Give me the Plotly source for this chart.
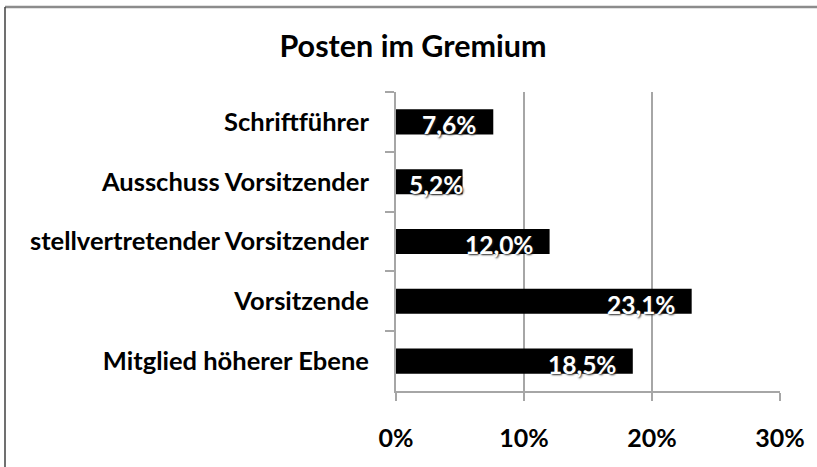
import plotly.graph_objects as go

# Posts held in the committee, top to bottom
positions = [
    "Schriftführer",
    "Ausschuss Vorsitzender",
    "stellvertretender Vorsitzender",
    "Vorsitzende",
    "Mitglied höherer Ebene",
]
shares = [7.6, 5.2, 12.0, 23.1, 18.5]
x_ticks = [0, 10, 20, 30]
x_tick_labels = ["0%", "10%", "20%", "30%"]

FONT = "Lato"
W, H = 817, 467
L, R, T, B = 396, 37, 92, 76


def pct_label(v):
    return f"{v:.1f}%".replace(".", ",")


fig = go.Figure(
    go.Bar(
        x=shares,
        y=positions,
        orientation="h",
        marker=dict(color="black", line=dict(width=0)),
        width=0.42,
        hoverinfo="skip",
    )
)

# value labels, white with a dark halo, sitting near the end of each bar
label_font = dict(family=FONT, size=24.5, color="white", weight="bold",
                  shadow="1px 1px 2px #222")
annotations = []
for cat, v in zip(positions, shares):
    annotations.append(dict(
        x=v, y=cat, xref="x", yref="y",
        text=pct_label(v),
        showarrow=False,
        xanchor="right",
        yanchor="middle",
        xshift=-15 if v > 6 else 2,
        yshift=-3,
        font=label_font,
    ))


def px_x(px):
    return (px - L) / (W - L - R)


def px_y(py):
    return (H - B - py) / (H - T - B)


fig.update_layout(
    width=W,
    height=H,
    margin=dict(l=L, r=R, t=T, b=B),
    paper_bgcolor="white",
    plot_bgcolor="white",
    showlegend=False,
    title=dict(
        text="Posten im Gremium",
        x=413 / W,
        xanchor="center",
        y=1 - 46 / H,
        yanchor="middle",
        font=dict(family=FONT, size=30.5, color="black", weight="bold"),
    ),
    xaxis=dict(
        range=[0, 30],
        tickvals=x_ticks,
        ticktext=x_tick_labels,
        showgrid=True,
        gridcolor="#a6a6a6",
        gridwidth=2,
        zeroline=False,
        showline=True,
        linecolor="#a6a6a6",
        linewidth=2,
        ticks="outside",
        ticklen=8,
        tickwidth=2,
        tickcolor="#a6a6a6",
        ticklabelstandoff=16,
        tickfont=dict(family=FONT, size=25, color="black", weight="bold"),
        fixedrange=True,
    ),
    yaxis=dict(
        autorange="reversed",
        showgrid=False,
        zeroline=False,
        showline=True,
        linecolor="#a6a6a6",
        linewidth=2,
        ticks="outside",
        tickson="boundaries",
        ticklen=9,
        tickwidth=2,
        tickcolor="#a6a6a6",
        ticklabelstandoff=20,
        tickfont=dict(family=FONT, size=25.5, color="black", weight="bold"),
        fixedrange=True,
    ),
    annotations=annotations,
    shapes=[
        # outer frame: top and left edges
        dict(type="line", xref="paper", yref="paper",
             x0=px_x(5), x1=px_x(817), y0=px_y(7), y1=px_y(7),
             line=dict(color="#8c8c8c", width=2.5)),
        dict(type="line", xref="paper", yref="paper",
             x0=px_x(5), x1=px_x(5), y0=px_y(7), y1=px_y(467),
             line=dict(color="#404040", width=1.5)),
    ],
)

fig.write_html("out.html")
